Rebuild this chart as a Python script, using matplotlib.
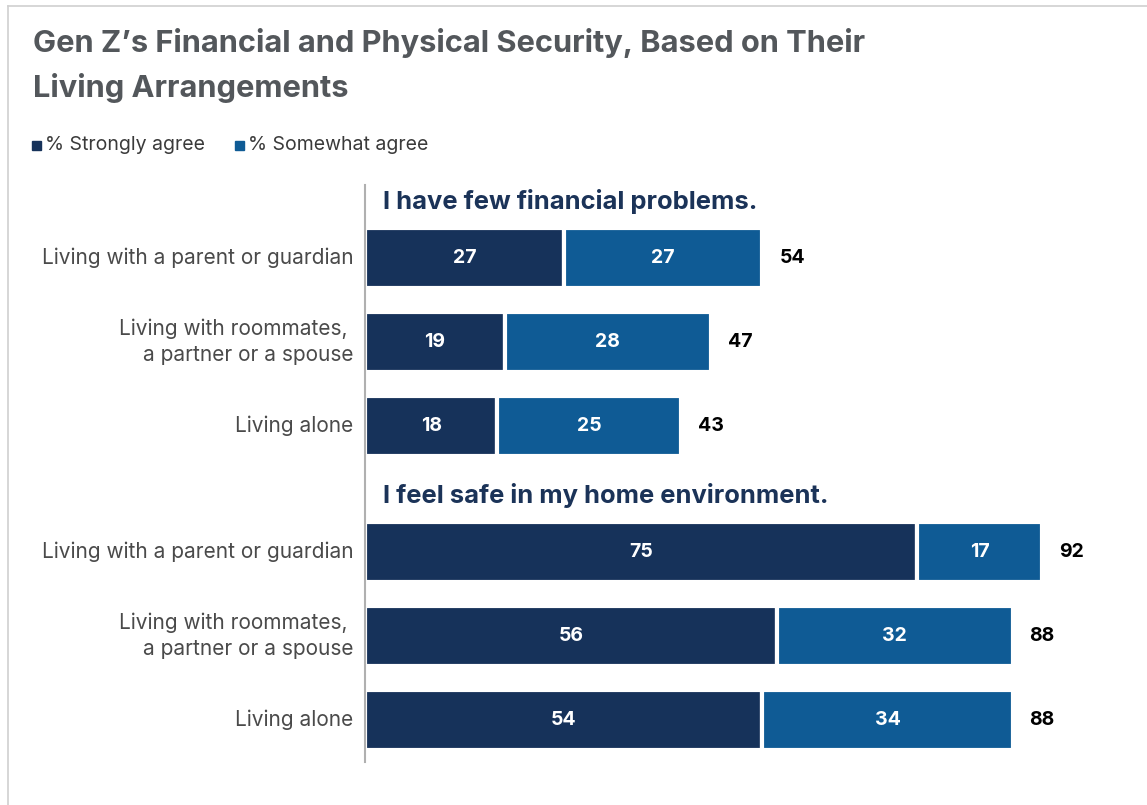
import matplotlib
matplotlib.use("Agg")
from matplotlib import pyplot as plt
import numpy as np

plt.rcParams['font.family'] = ['Inter', 'DejaVu Sans']

groups = ["I have few financial problems.", "I feel safe in my home environment."]
categories = ["Living with a parent or guardian",
              "Living with roommates, \na partner or a spouse",
              "Living alone"]
strongly = [[27, 19, 18], [75, 56, 54]]
somewhat = [[27, 28, 25], [17, 32, 34]]
totals = [[54, 47, 43], [92, 88, 88]]

dark = "#16325a"
mid = "#0f5b95"

fig = plt.figure(figsize=(11.47, 8.05), dpi=100)
W, H = 1147, 805

# frame lines at top and left
fig.add_artist(plt.Line2D([8 / W, 1], [1 - 6 / H, 1 - 6 / H], color="#d0d0d0", lw=1.2))
fig.add_artist(plt.Line2D([8 / W, 8 / W], [0, 1 - 6 / H], color="#d0d0d0", lw=1.2))

fig.text(33 / W, 1 - 43 / H, "Gen Z\u2019s Financial and Physical Security, Based on Their",
         fontsize=22.2, fontweight="bold", color="#53575b", va="center")
fig.text(33 / W, 1 - 88 / H, "Living Arrangements",
         fontsize=22.2, fontweight="bold", color="#53575b", va="center")

# legend
fig.patches.append(plt.Rectangle((32 / W, 1 - 150 / H), 9 / W, 9 / H, color=dark, transform=fig.transFigure))
fig.text(45 / W, 1 - 145 / H, "% Strongly agree", fontsize=14, color="#3a3a3a", va="center")
fig.patches.append(plt.Rectangle((235 / W, 1 - 150 / H), 9 / W, 9 / H, color=mid, transform=fig.transFigure))
fig.text(248 / W, 1 - 145 / H, "% Somewhat agree", fontsize=14, color="#3a3a3a", va="center")

ax_left, ax_right = 365, 365 + 100 * 7.36
ax_top, ax_bot = 185, 762
ax = fig.add_axes([ax_left / W, 1 - ax_bot / H, (ax_right - ax_left) / W, (ax_bot - ax_top) / H])

offsets = [0, 3.5]
for g in range(2):
    y = offsets[g] + np.arange(len(categories))
    ax.barh(y, strongly[g], height=0.714, color=dark, edgecolor="white", linewidth=3)
    ax.barh(y, somewhat[g], left=strongly[g], height=0.714, color=mid, edgecolor="white", linewidth=3)
    for i in range(len(categories)):
        ax.text(strongly[g][i] / 2, y[i], str(strongly[g][i]), ha="center", va="center",
                color="white", fontsize=14, fontweight="bold")
        ax.text(strongly[g][i] + somewhat[g][i] / 2, y[i], str(somewhat[g][i]), ha="center",
                va="center", color="white", fontsize=14, fontweight="bold")
        ax.text(totals[g][i] + 2.3, y[i], str(totals[g][i]), ha="left", va="center",
                color="black", fontsize=14, fontweight="bold")
        ax.text(-1.6, y[i], categories[i], ha="right", va="center", color="#4a4a4a",
                fontsize=15, linespacing=1.35)
    ax.text(2.4, y[0] - 0.67, groups[g], ha="left", va="center", color="#1b3358",
            fontsize=18.4, fontweight="bold")

ax.set_xlim(0, 100)
ax.set_ylim(6.0, -0.869)
ax.set_xticks([])
ax.set_yticks([])
for s in ["top", "right", "bottom"]:
    ax.spines[s].set_visible(False)
ax.spines["left"].set_color("#b0b0b0")
ax.spines["left"].set_linewidth(1.5)

fig.savefig("out.png", dpi=100)
